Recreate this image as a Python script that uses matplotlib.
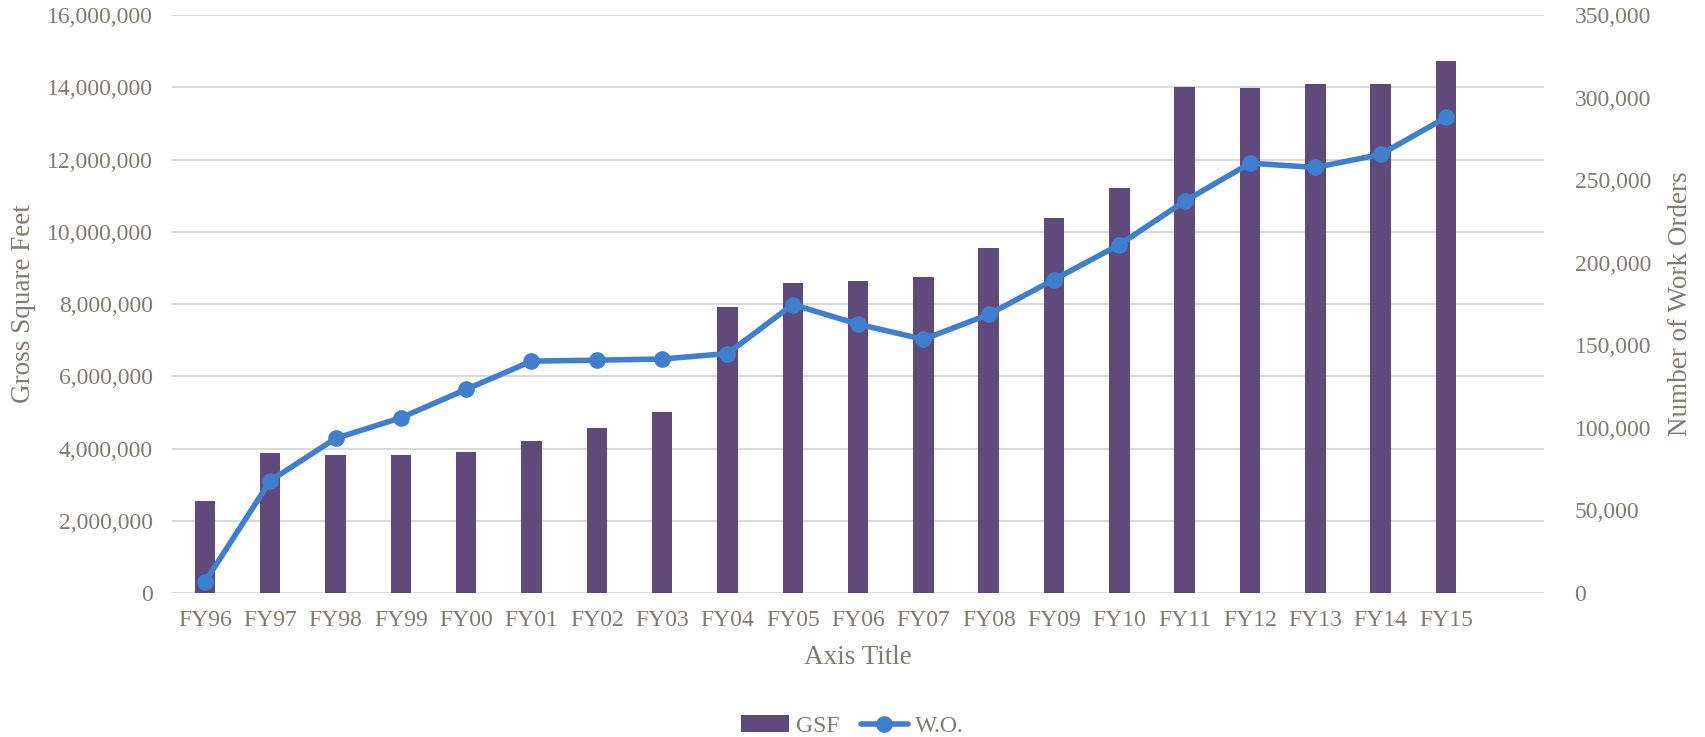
import matplotlib
matplotlib.use("Agg")
import matplotlib.pyplot as plt
from matplotlib.ticker import FuncFormatter, MultipleLocator

years = ["FY96", "FY97", "FY98", "FY99", "FY00", "FY01", "FY02", "FY03", "FY04", "FY05",
         "FY06", "FY07", "FY08", "FY09", "FY10", "FY11", "FY12", "FY13", "FY14", "FY15"]
gsf = [2550000, 3870000, 3820000, 3830000, 3890000, 4220000, 4580000, 5000000, 7920000, 8580000,
       8640000, 8760000, 9550000, 10390000, 11200000, 14000000, 13970000, 14100000, 14100000, 14730000]
work_orders = [6600, 67900, 93600, 106100, 123300, 140400, 141000, 141700, 145000, 174700,
               162800, 153600, 168700, 189800, 210900, 237300, 260300, 257700, 265600, 288000]

text_color = "#847A6E"
bar_color = "#604A7B"
line_color = "#3F7FCF"
grid_color = "#D9D9D9"

tick_size = 17
title_size = 19.5

plt.rcParams["font.family"] = ["Liberation Serif", "DejaVu Serif"]

fig = plt.figure(figsize=(17.05, 7.37), dpi=100)
ax = fig.add_axes([0.101, 0.1954, 0.8046, 0.7842])
ax2 = ax.twinx()

x = list(range(len(years)))
bars = ax.bar(x, gsf, width=0.315, color=bar_color, zorder=2, label="GSF")
line, = ax2.plot(x, work_orders, color=line_color, linewidth=4.0, marker="o",
                 markersize=11, zorder=3, label="W.O.", solid_capstyle="round",
                 solid_joinstyle="round")

ax.set_xlim(-0.5, len(years) + 0.5)
ax.set_ylim(0, 16000000)
ax2.set_ylim(0, 350000)
ax.yaxis.set_major_locator(MultipleLocator(2000000))
ax2.yaxis.set_major_locator(MultipleLocator(50000))
fmt = FuncFormatter(lambda v, p: f"{int(v):,}")
ax.yaxis.set_major_formatter(fmt)
ax2.yaxis.set_major_formatter(fmt)

ax.set_xticks(x)
ax.set_xticklabels(years)

ax.grid(axis="y", color=grid_color, linewidth=1.4, zorder=0)
ax.set_axisbelow(True)

for a in (ax, ax2):
    for s in a.spines.values():
        s.set_visible(False)
    a.tick_params(length=0, labelsize=tick_size, colors=text_color)

ax.tick_params(axis="y", pad=14)
ax2.tick_params(axis="y", pad=22)
ax.tick_params(axis="x", pad=12)

ax.set_ylabel("Gross Square Feet", fontsize=title_size, color=text_color, labelpad=8)
ax2.set_ylabel("Number of Work Orders", fontsize=title_size, color=text_color, labelpad=12)
ax.set_xlabel("Axis Title", fontsize=title_size, color=text_color, labelpad=10)

leg = fig.legend(handles=[bars, line], labels=["GSF", "W.O."], loc="center",
                 bbox_to_anchor=(0.5, 1 - 726 / 737), ncol=2, frameon=False,
                 fontsize=tick_size, handlelength=2.0, handletextpad=0.3,
                 columnspacing=0.9)
for t in leg.get_texts():
    t.set_color(text_color)

fig.savefig("out.png", dpi=100)
